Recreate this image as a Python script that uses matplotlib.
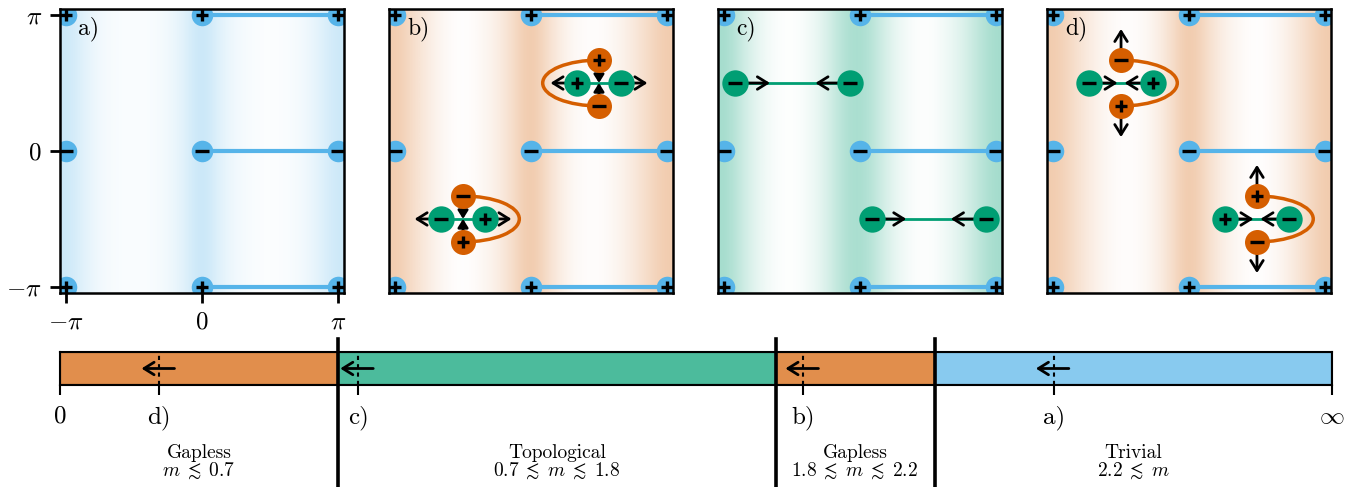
import numpy as np
import matplotlib
matplotlib.use("Agg")
import matplotlib.pyplot as plt
from matplotlib.colors import LinearSegmentedColormap
from matplotlib.patches import Arc

plt.rcParams["font.family"] = "cmr10"
plt.rcParams["mathtext.fontset"] = "cm"
plt.rcParams["axes.formatter.use_mathtext"] = True

BLUE = "#56B4E9"
ORANGE = "#D55E00"
GREEN = "#009E73"
pi = np.pi
LIM = 3.28

# blue nodes, same grid in every panel
node_x = [-pi, 0, pi]
node_y = [pi, 0, -pi]
node_sign = ["+", "-", "+"]

# background strength along kx (17 samples across the panel)
bg_a = [0.30, 0.16, 0.07, 0.04, 0.03, 0.04, 0.08, 0.18, 0.36, 0.18, 0.08, 0.04, 0.02, 0.03, 0.07, 0.16, 0.30]
bg_b = [0.32, 0.20, 0.10, 0.03, 0.00, 0.04, 0.10, 0.22, 0.36, 0.20, 0.08, 0.02, 0.01, 0.05, 0.12, 0.22, 0.32]
bg_c = [0.36, 0.20, 0.08, 0.02, 0.00, 0.05, 0.14, 0.30, 0.36, 0.24, 0.10, 0.03, 0.00, 0.05, 0.12, 0.24, 0.36]
bg_d = [0.32, 0.22, 0.12, 0.05, 0.01, 0.02, 0.08, 0.20, 0.36, 0.22, 0.10, 0.04, 0.00, 0.03, 0.10, 0.20, 0.32]

# panel b: node quartets (green pair along kx, orange pair along ky)
b_cx = [1.57, -1.57]
b_cy = [1.57, -1.57]
b_green = [("+", "-"), ("-", "+")]
b_orange = [("+", "-"), ("-", "+")]
b_loop = ["left", "right"]

# panel c: green pairs moving towards each other
c_y = [1.57, -1.57]
c_x = [(-2.88, -0.23), (0.27, 2.9)]

# panel d: node quartets
d_cx = [-1.57, 1.57]
d_cy = [1.57, -1.57]
d_green = [("-", "+"), ("+", "-")]
d_orange = [("-", "+"), ("+", "-")]

# phase bar
phase_start = [0, 0.7, 1.8, 2.2]
phase_end = [0.7, 1.8, 2.2, 3.2]
phase_color = [ORANGE, GREEN, ORANGE, BLUE]
phase_name = ["Gapless", "Topological", "Gapless", "Trivial"]
phase_range = [r"$m\;\lesssim\;0.7$", r"$0.7\;\lesssim\;m\;\lesssim\;1.8$",
               r"$1.8\;\lesssim\;m\;\lesssim\;2.2$", r"$2.2\;\lesssim\;m$"]
panel_m = [2.5, 1.87, 0.75, 0.25]
panel_tag = ["a)", "b)", "c)", "d)"]

W, H = 1356, 487
fig = plt.figure(figsize=(W / 100, H / 100), dpi=100)


def node(ax, x, y, sign, color, ms):
    ax.plot(x, y, "o", color=color, ms=ms, mew=0, zorder=4)
    mk = "+" if sign == "+" else "_"
    ax.plot(x, y, marker=mk, color="k", ms=9 if mk == "+" else 10, mew=2.4, zorder=5)


def arrow(ax, start, end, style="->", ms=18):
    ax.annotate("", xy=end, xytext=start, zorder=3,
                arrowprops=dict(arrowstyle=style + ",head_length=0.4,head_width=0.25",
                                lw=2, color="k", shrinkA=0, shrinkB=0,
                                mutation_scale=ms))


def quartet(ax, cx, cy, gsign, osign, gdx, loop, inward):
    # green pair
    ax.plot([cx - gdx, cx + gdx], [cy, cy], color=GREEN, lw=2, zorder=2)
    node(ax, cx - gdx, cy, gsign[0], GREEN, 19)
    node(ax, cx + gdx, cy, gsign[1], GREEN, 19)
    # orange pair
    node(ax, cx, cy + 0.53, osign[0], ORANGE, 18)
    node(ax, cx, cy - 0.53, osign[1], ORANGE, 18)
    if loop == "left":
        arc = Arc((cx, cy), 2.6, 1.06, theta1=90, theta2=270, color=ORANGE, lw=2.5, zorder=2)
    else:
        arc = Arc((cx, cy), 2.6, 1.06, theta1=-90, theta2=90, color=ORANGE, lw=2.5, zorder=2)
    ax.add_patch(arc)
    if inward:
        # greens move apart, oranges move in
        arrow(ax, (cx - gdx, cy), (cx - 1.12, cy))
        arrow(ax, (cx + gdx, cy), (cx + 1.12, cy))
        arrow(ax, (cx, cy + 0.53), (cx, cy), "-|>", 12)
        arrow(ax, (cx, cy - 0.53), (cx, cy), "-|>", 12)
    else:
        arrow(ax, (cx - gdx, cy), (cx - 0.08, cy))
        arrow(ax, (cx + gdx, cy), (cx + 0.08, cy))
        arrow(ax, (cx, cy + 0.53), (cx, cy + 1.25))
        arrow(ax, (cx, cy - 0.53), (cx, cy - 1.25))


lefts = [60, 389, 718, 1047]
bgs = [bg_a, bg_b, bg_c, bg_d]
bg_cols = [BLUE, ORANGE, GREEN, ORANGE]
axes = []
for i in range(4):
    ax = fig.add_axes([lefts[i] / W, 194 / H, 284 / W, 284 / H])
    axes.append(ax)
    cmap = LinearSegmentedColormap.from_list("bg", ["white", bg_cols[i]])
    prof = np.array(bgs[i])
    ax.imshow(np.vstack([prof, prof]), extent=(-LIM, LIM, -LIM, LIM), cmap=cmap,
              vmin=0, vmax=1, aspect="auto", interpolation="bicubic", zorder=0)
    for yv, s in zip(node_y, node_sign):
        ax.plot([0, pi], [yv, yv], color=BLUE, lw=3, zorder=1)
        for xv in node_x:
            node(ax, xv, yv, s, BLUE, 15.5)
    ax.set_xlim(-LIM, LIM)
    ax.set_ylim(-LIM, LIM)
    for sp in ax.spines.values():
        sp.set_linewidth(1.8)
        sp.set_zorder(10)
    ax.text(0.065, 0.975, panel_tag[i], transform=ax.transAxes, ha="left", va="top",
            fontsize=17, zorder=11)
    if i == 0:
        ax.set_xticks([-pi, 0, pi], [r"$-\pi$", r"$0$", r"$\pi$"])
        ax.set_yticks([-pi, 0, pi], [r"$-\pi$", r"$0$", r"$\pi$"])
        ax.tick_params(length=7, width=2, labelsize=18, pad=6)
    else:
        ax.set_xticks([])
        ax.set_yticks([])

for cx, cy, gs, os_, lp in zip(b_cx, b_cy, b_green, b_orange, b_loop):
    quartet(axes[1], cx, cy, gs, os_, 0.51, lp, True)

for (x1, x2), yv in zip(c_x, c_y):
    ax = axes[2]
    ax.plot([x1, x2], [yv, yv], color=GREEN, lw=2, zorder=2)
    arrow(ax, (x1, yv), (x1 + 0.8, yv))
    arrow(ax, (x2, yv), (x2 - 0.8, yv))
    node(ax, x1, yv, "-", GREEN, 19)
    node(ax, x2, yv, "-", GREEN, 19)

for cx, cy, gs, os_ in zip(d_cx, d_cy, d_green, d_orange):
    quartet(axes[3], cx, cy, gs, os_, 0.74, "right", False)

# phase bar
bx = fig.add_axes([60 / W, 102 / H, 1272 / W, 33 / H])
for s, e, c in zip(phase_start, phase_end, phase_color):
    bx.barh(0.5, e - s, left=s, height=1, color=c, alpha=0.7, edgecolor="none")
    bx.barh(0.5, e - s, left=s, height=1, color="none", edgecolor="k", lw=1.5)
bx.set_xlim(0, 3.2)
bx.set_ylim(0, 1)
bx.vlines(panel_m, 0, 1, colors="k", linestyles=(0, (2, 2)), lw=1.5)
for m in panel_m:
    arrow(bx, (m + 0.038, 0.5), (m - 0.045, 0.5))
for b in phase_start[1:]:
    bx.plot([b, b], [-3.3, 1.39], color="k", lw=2.6, transform=bx.get_xaxis_transform(),
            clip_on=False, zorder=6)
for s, e, name, rng in zip(phase_start, phase_end, phase_name, phase_range):
    bx.text((s + e) / 2, -2.2, name, ha="center", va="baseline", fontsize=14,
            transform=bx.get_xaxis_transform())
    bx.text((s + e) / 2, -2.75, rng, ha="center", va="baseline", fontsize=14,
            transform=bx.get_xaxis_transform())
bx.set_xticks([0] + panel_m + [3.2], ["0"] + panel_tag + [r"$\infty$"])
bx.set_yticks([])
bx.tick_params(axis="x", length=7, width=1.5, labelsize=18, pad=8)
for sp in bx.spines.values():
    sp.set_linewidth(1.5)

fig.savefig("out.png", dpi=100)
